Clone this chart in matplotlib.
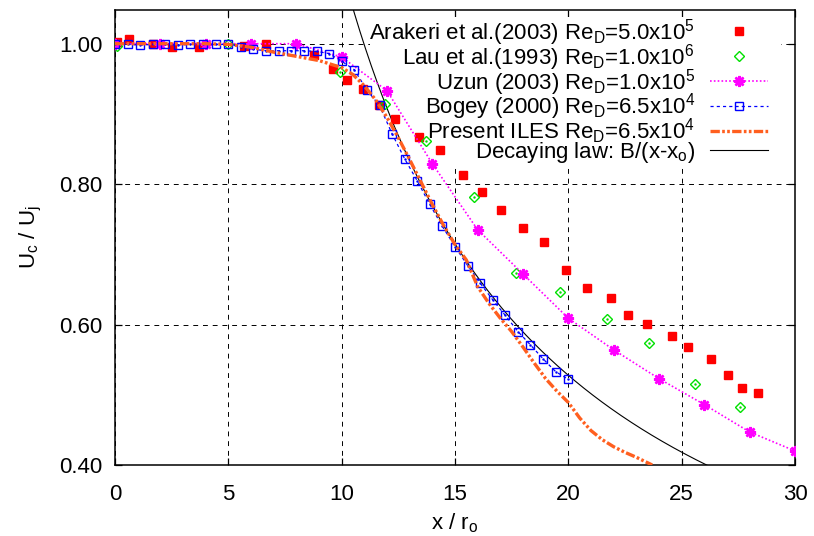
import numpy as np
import matplotlib
matplotlib.use("Agg")
import matplotlib.pyplot as plt
from matplotlib.patches import Rectangle

plt.rcParams['font.family'] = ['Liberation Sans', 'DejaVu Sans']
plt.rcParams['mathtext.default'] = 'regular'

# ---------------- data ----------------
arakeri_x = [0.07, 0.62, 1.68, 2.51, 3.71, 5.69, 6.66, 8.78, 9.62, 10.23, 10.94, 11.65,
             12.35, 13.41, 14.34, 15.35, 16.19, 17.03, 18.00, 18.93, 19.90, 20.82, 21.88,
             22.63, 23.47, 24.57, 25.28, 26.29, 27.04, 27.66, 28.36]
arakeri_y = [1.003, 1.006, 1.000, 0.996, 0.996, 0.997, 1.000, 0.984, 0.964, 0.949, 0.936, 0.913,
             0.893, 0.867, 0.848, 0.813, 0.789, 0.763, 0.738, 0.718, 0.678, 0.652, 0.638,
             0.614, 0.601, 0.584, 0.568, 0.551, 0.528, 0.510, 0.503]

lau_x = [0.07, 4.98, 9.93, 11.91, 13.72, 15.84, 17.69, 19.63, 21.70, 23.56, 25.58, 27.57]
lau_y = [0.997, 0.999, 0.960, 0.914, 0.861, 0.781, 0.674, 0.647, 0.608, 0.574, 0.515, 0.483]

uzun_x = [0, 2, 4, 6, 8, 10, 12, 14, 16, 18, 20, 22, 24, 26, 28, 30]
uzun_y = [1.000, 1.000, 1.000, 1.000, 1.000, 0.981, 0.933, 0.829, 0.735, 0.672, 0.609,
          0.564, 0.523, 0.486, 0.447, 0.420]

bogey_x = [0.00, 0.56, 1.11, 1.67, 2.22, 2.78, 3.33, 3.89, 4.44, 5.00, 5.56, 6.11, 6.67,
           7.22, 7.78, 8.33, 8.89, 9.44, 10.00, 10.56, 11.11, 11.67, 12.22, 12.78, 13.33,
           13.89, 14.44, 15.00, 15.56, 16.11, 16.67, 17.22, 17.78, 18.33, 18.89, 19.44, 20.00]
bogey_y = [1.000, 0.999, 0.998, 0.999, 0.999, 0.998, 0.999, 0.999, 0.999, 0.999, 0.996, 0.992,
           0.990, 0.990, 0.990, 0.990, 0.989, 0.986, 0.975, 0.963, 0.934, 0.912, 0.872, 0.836,
           0.805, 0.771, 0.740, 0.711, 0.684, 0.659, 0.635, 0.613, 0.590, 0.571, 0.551, 0.533,
           0.522]

iles_x = [0, 1, 2, 3, 4, 5, 6, 7, 8, 9, 10, 10.5, 11, 11.5, 12, 12.5, 13, 13.5, 14, 14.5,
          15, 15.5, 16, 16.5, 17, 17.5, 18, 18.5, 19, 19.5, 20, 20.5, 21, 21.5, 22, 22.5,
          23, 23.7]
iles_y = [1.000, 1.000, 1.000, 1.000, 1.000, 0.999, 0.995, 0.988, 0.982, 0.976, 0.966, 0.956,
          0.940, 0.920, 0.895, 0.866, 0.835, 0.803, 0.771, 0.741, 0.714, 0.692, 0.654, 0.630,
          0.609, 0.590, 0.568, 0.545, 0.523, 0.505, 0.489, 0.467, 0.449, 0.436, 0.426, 0.418,
          0.411, 0.400]

# decaying law B/(x - x0)
B = 10.08
x0 = 0.9
law_x = np.linspace(10.0, 30.0, 400)
law_y = B / (law_x - x0)

xticks = [0, 5, 10, 15, 20, 25, 30]
yticks = [0.40, 0.60, 0.80, 1.00]

labels = [
    'Arakeri et al.(2003) Re$_D$=5.0x10$^5$',
    'Lau et al.(1993) Re$_D$=1.0x10$^6$',
    'Uzun (2003) Re$_D$=1.0x10$^5$',
    'Bogey (2000) Re$_D$=6.5x10$^4$',
    'Present ILES Re$_D$=6.5x10$^4$',
    'Decaying law: B/(x-x$_o$)',
]

# ---------------- figure ----------------
fig = plt.figure(figsize=(8.14, 5.36), dpi=100)
ax = fig.add_axes([115/814, 1 - 465/536, 680/814, 455/536])

FS = 16

l_ar, = ax.plot(arakeri_x, arakeri_y, ls='none', marker='s', ms=5.8, color='#ff0000',
                mec='#ff0000', zorder=4, label=labels[0])
l_lau, = ax.plot(lau_x, lau_y, ls='none', marker='D', ms=5.0, mfc='none', mec='#00e000',
                 mew=1.0, zorder=4, label=labels[1])
ax.plot(lau_x, lau_y, ls='none', marker='.', ms=1.5, color='#00e000', zorder=4)
l_uz, = ax.plot(uzun_x, uzun_y, ls=(0, (1, 1.3)), lw=1.2, color='#ff00ff', marker=(8, 2, 0),
                ms=8, mew=1.8, zorder=4, label=labels[2])
l_bo, = ax.plot(bogey_x, bogey_y, ls=(0, (2.5, 2.5)), lw=0.9, color='#0000ff', marker='s',
                ms=6, mfc='none', mew=1.0, zorder=4, label=labels[3])
ax.plot(bogey_x, bogey_y, ls='none', marker='.', ms=1.5, color='#0000ff', zorder=4)
l_il, = ax.plot(iles_x, iles_y, ls=(0, (2.8, 0.7, 0.8, 0.7, 0.8, 0.7)), lw=2.4,
                color='#ff5f1f', zorder=4.5, label=labels[4])
l_law, = ax.plot(law_x, law_y, ls='-', lw=0.8, color='black', zorder=3, label=labels[5])

ax.set_xlim(0, 30)
ax.set_ylim(0.40, 1.048)
ax.set_xticks(xticks)
ax.set_yticks(yticks)
ax.set_yticklabels(['%.2f' % v for v in yticks])

ax.set_axisbelow(True)
ax.grid(True, color='black', ls=(0, (5, 5)), lw=0.7)

ax.tick_params(direction='in', top=True, right=True, length=5, width=0.9, labelsize=FS)
ax.tick_params(axis='x', pad=14)
ax.tick_params(axis='y', pad=9)
for s in ax.spines.values():
    s.set_linewidth(1.1)

ax.set_xlabel('x / r$_o$', fontsize=FS, labelpad=4)
ax.set_ylabel('U$_c$ / U$_j$', fontsize=FS, labelpad=11)

# opaque key area (hides the grid behind the key, as in the original)
ax.add_patch(Rectangle((0.375, 0.659), 0.604, 0.326, transform=ax.transAxes,
                       facecolor='white', edgecolor='none', zorder=1))

leg = ax.legend(handles=[l_ar, l_lau, l_uz, l_bo, l_il, l_law], loc='upper right',
                bbox_to_anchor=(0.960, 0.985), fontsize=FS, markerfirst=False,
                frameon=False, handlelength=2.6, handletextpad=0.68,
                labelspacing=-0.27, borderpad=0.0, borderaxespad=0.0)
leg.set_zorder(5)

fig.savefig('out.png', dpi=100)
